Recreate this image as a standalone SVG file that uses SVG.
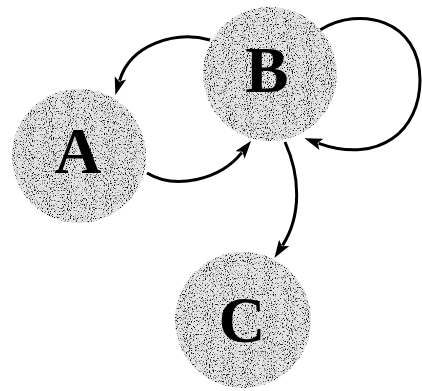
<svg xmlns="http://www.w3.org/2000/svg" width="422" height="391" viewBox="0 0 422 391">
<style>
.node circle{fill:#e4e4e4;filter:url(#grain)}
.node text{font-family:"Liberation Serif","Times New Roman",serif;font-weight:bold;font-size:65px;text-anchor:middle;fill:#000}
.edge{fill:none;stroke:#000;stroke-width:3;marker-end:url(#arrow)}
</style>
<defs>
<marker id="arrow" viewBox="0 0 18 12" markerWidth="18" markerHeight="12" refX="3" refY="6" orient="auto" markerUnits="userSpaceOnUse">
<path d="M0,0 L18,6 L0,12 L4,6 z" fill="#000"/>
</marker>
<filter id="grain" x="0" y="0" width="1" height="1" color-interpolation-filters="sRGB">
<feTurbulence type="fractalNoise" baseFrequency="0.95 0.7" numOctaves="2" seed="4" result="n"/>
<feColorMatrix in="n" type="matrix" values="0 0 0 0 0  0 0 0 0 0  0 0 0 0 0  -5 0 0 0 2.25" result="d"/>
<feComposite in="d" in2="SourceGraphic" operator="in" result="dc"/>
<feMerge><feMergeNode in="SourceGraphic"/><feMergeNode in="dc"/></feMerge>
</filter>
</defs>
<g id="connectors">
<path class="edge" d="M210,40 C175,30 130,45 119.6,80.7"/>
<path class="edge" d="M147,173 C175,190 220,180 241.8,152.6"/>
<path class="edge" d="M320,30 C360,5 420,20 420,80 C420,130 380,165 318.6,143.3"/>
<path class="edge" d="M285,142 C300,175 302,215 282.5,245.4"/>
</g>
<g id="node-A" class="node">
<circle cx="79" cy="156" r="67"/>
<text x="78" y="173">A</text>
</g>
<g id="node-B" class="node">
<circle cx="270" cy="74" r="67"/>
<text x="267" y="92">B</text>
</g>
<g id="node-C" class="node">
<circle cx="243" cy="320" r="68"/>
<text x="242" y="342">C</text>
</g>
</svg>
